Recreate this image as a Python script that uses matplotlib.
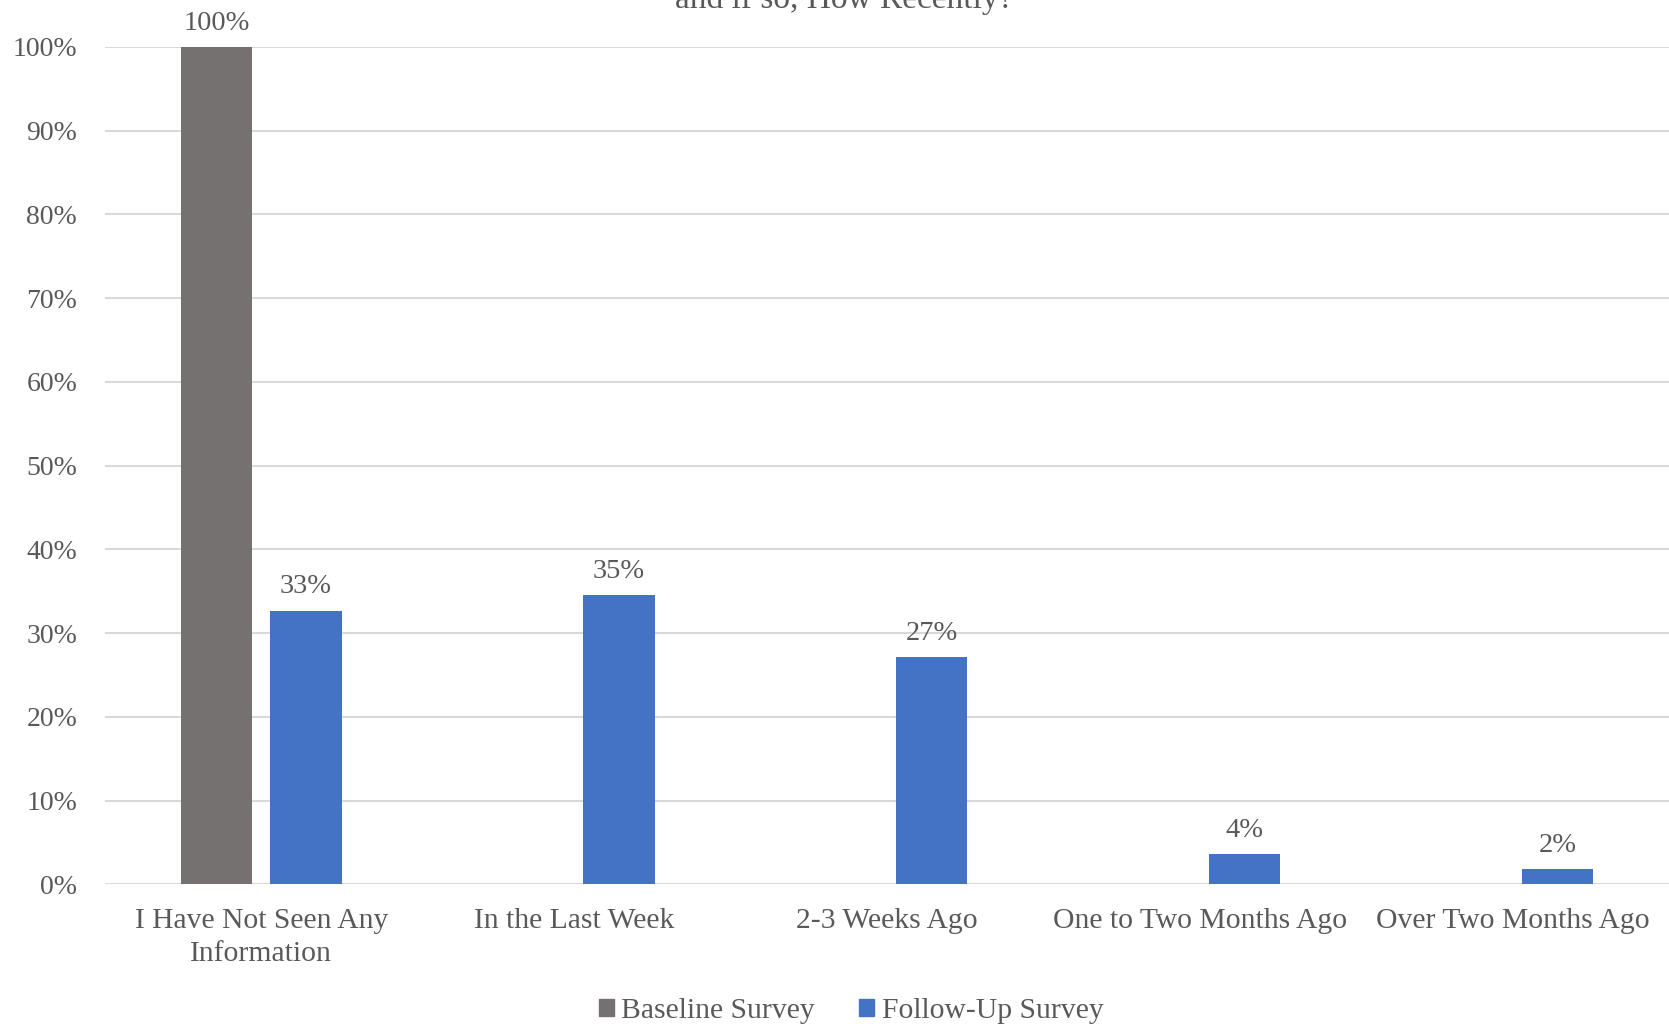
import matplotlib.pyplot as plt
import numpy as np
from matplotlib.patches import Patch

plt.rcParams['font.family'] = ['Liberation Serif', 'DejaVu Serif']

# 数据
categories = ['I Have Not Seen Any\nInformation', 'In the Last Week', '2-3 Weeks Ago',
              'One to Two Months Ago', 'Over Two Months Ago']
baseline = [1.00, 0, 0, 0, 0]
follow_up = [0.327, 0.346, 0.272, 0.036, 0.018]
yticks = np.arange(0, 1.01, 0.1)

grey = '#767171'
blue = '#4472C4'
text_c = '#595959'

fig = plt.figure(figsize=(16.69, 10.27), dpi=100)
ax = fig.add_axes([0.0629, 0.1388, 0.9371, 0.8156])

x = np.arange(len(categories))
w = 0.228
off = 0.143
b1 = ax.bar(x - off, baseline, w, color=grey, zorder=3)
b2 = ax.bar(x + off, follow_up, w, color=blue, zorder=3)

# 数据标签
for bars, vals in [(b1, baseline), (b2, follow_up)]:
    for rect, v in zip(bars, vals):
        if v <= 0:
            continue
        ax.annotate(f'{v * 100:.0f}%', (rect.get_x() + rect.get_width() / 2, v),
                    xytext=(0, 8), textcoords='offset points', ha='center', va='bottom',
                    fontsize=20.5, color=text_c)

ax.set_xlim(-0.5, len(categories) - 0.5)
ax.set_ylim(0, 1)
ax.set_yticks(yticks)
ax.set_yticklabels([f'{t * 100:.0f}%' for t in yticks])
ax.set_xticks(x)
ax.set_xticklabels(categories, linespacing=1.35)
ax.tick_params(axis='y', length=0, pad=20, labelsize=20, labelcolor=text_c)
ax.tick_params(axis='x', length=0, pad=17, labelsize=21.3, labelcolor=text_c)
ax.grid(axis='y', color='#D9D9D9', linewidth=1.5, zorder=0)
for s in ax.spines.values():
    s.set_visible(False)

# 标题（上方被裁掉，和原图一样）
fig.text(0.506, 1 - 8 / 1027, 'and if so, How Recently?', ha='center', va='baseline',
         fontsize=24, color=text_c)

handles = [Patch(color=grey, label='Baseline Survey'), Patch(color=blue, label='Follow-Up Survey')]
fig.legend(handles=handles, loc='center', bbox_to_anchor=(0.51, 1 - 1011 / 1027), ncol=2,
           frameon=False, fontsize=21.3, labelcolor=text_c, handlelength=0.5, handleheight=0.5,
           handletextpad=0.25, columnspacing=1.5)

fig.savefig('out.png', dpi=100)
